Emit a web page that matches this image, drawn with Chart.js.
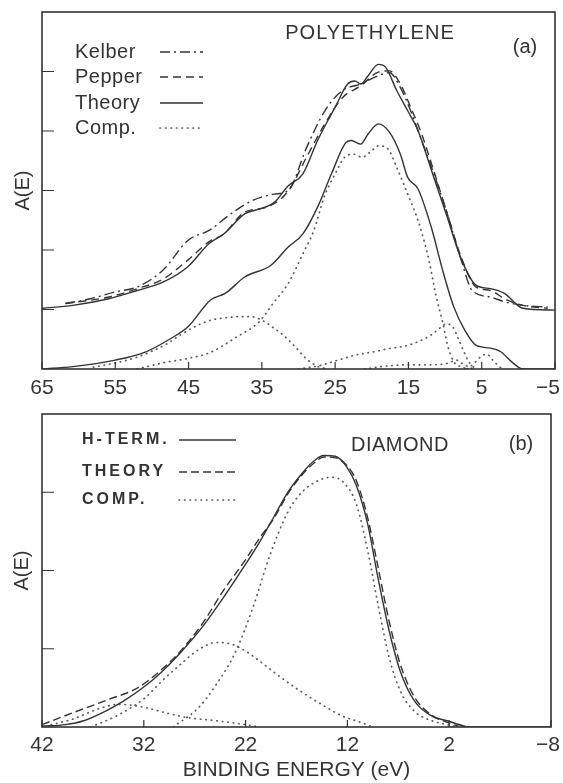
<!DOCTYPE html>
<html>
<head>
<meta charset="utf-8">
<script src="https://cdn.jsdelivr.net/npm/chart.js@4.4.1/dist/chart.umd.min.js"></script>
<style>
  html, body { margin: 0; padding: 0; background: #fff; }
  .panel { position: absolute; left: 0; width: 563px; }
  #wrapA { top: 0; height: 400px; }
  #wrapB { top: 400px; height: 383px; }
</style>
</head>
<body>
<div id="wrapA" class="panel"><canvas id="chartA" width="563" height="400"></canvas></div>
<div id="wrapB" class="panel"><canvas id="chartB" width="563" height="383"></canvas></div>
<script>
// --- Panel (a): polyethylene ---
const aTickValues = [65, 55, 45, 35, 25, 15, 5, -5];
const aTickLabels = ['65', '55', '45', '35', '25', '15', '5', '−5'];
const aYTicks = [0, 1, 2, 3, 4, 5, 6];

const aKelberE = [61.8, 58.4, 54.9, 52.0, 48.5, 45.1, 42.2, 39.2, 36.3, 33.3, 31.4, 28.9, 26.4, 24.0, 21.5, 19.1, 17.6, 16.1, 14.7, 13.2, 11.7, 9.7, 7.8, 6.3, 3.8, 1.9, -0.6, -4.0];
const aKelberA = [1.10, 1.18, 1.30, 1.38, 1.66, 2.16, 2.33, 2.61, 2.83, 2.94, 3.00, 3.72, 4.34, 4.68, 4.79, 4.93, 4.98, 4.73, 4.34, 3.84, 3.34, 2.61, 1.83, 1.32, 1.21, 1.13, 1.07, 1.04];

const aPepperE = [61.8, 55.9, 52.0, 48.5, 45.1, 42.2, 40.2, 37.3, 34.3, 31.4, 28.9, 26.4, 24.0, 21.5, 19.1, 17.6, 16.1, 14.7, 13.2, 11.7, 9.7, 7.8, 5.8, 3.8, 1.9, -0.6, -4.0];
const aPepperA = [1.10, 1.21, 1.35, 1.51, 1.83, 2.14, 2.27, 2.64, 2.72, 2.99, 3.56, 4.12, 4.56, 4.76, 4.99, 5.01, 4.79, 4.40, 3.95, 3.39, 2.61, 1.88, 1.38, 1.32, 1.18, 1.07, 1.02];

const aTheoryUpE = [65, 60.8, 55.9, 52, 48.5, 45.1, 42.2, 40.2, 37.3, 35.3, 33.3, 31.4, 29.4, 27.4, 25, 23.3, 22.3, 21.5, 20.5, 19.1, 18.1, 16.6, 15.1, 13.7, 11.7, 9.7, 7.9, 5.8, 3.8, 1.9, -0.6, -5];
const aTheoryUpA = [1.02, 1.07, 1.18, 1.32, 1.46, 1.72, 2.11, 2.27, 2.61, 2.69, 2.80, 3.08, 3.28, 3.84, 4.40, 4.79, 4.84, 4.79, 4.93, 5.12, 5.07, 4.68, 4.34, 4.01, 3.28, 2.55, 1.88, 1.41, 1.35, 1.27, 1.02, 0.99];

const aTheoryLoE = [65, 60.8, 55, 51, 47.6, 45, 42, 40, 37.3, 33.8, 31.4, 29.4, 27.4, 25.5, 23.5, 22.8, 21.5, 20.5, 19.1, 17.6, 16.1, 15.1, 13.7, 11.9, 10.2, 8.8, 7.3, 5.8, 3.8, 2.4, 0.9, -0.6, -5];
const aTheoryLoA = [0, 0.04, 0.15, 0.28, 0.50, 0.72, 1.16, 1.27, 1.55, 1.74, 2.05, 2.27, 2.72, 3.28, 3.81, 3.84, 3.78, 3.95, 4.12, 3.98, 3.61, 3.22, 3.03, 2.39, 1.60, 1.04, 0.65, 0.40, 0.35, 0.29, 0.12, 0, 0];

const aComp1E = [58, 55, 52, 50, 48, 46, 44, 42, 40, 38, 36.5, 35, 33.5, 32, 30.5, 29, 27.5, 26];
const aComp1A = [0.03, 0.10, 0.20, 0.30, 0.42, 0.58, 0.72, 0.82, 0.86, 0.88, 0.88, 0.82, 0.70, 0.56, 0.38, 0.18, 0.05, 0];
const aComp2E = [52, 48.6, 45, 42.2, 38.4, 35.4, 33.3, 31.4, 29.4, 27.9, 26.5, 25, 23.7, 22.5, 21.3, 20, 19.1, 17.8, 16.6, 15.1, 13.7, 12.2, 11.3, 10.3, 9.6, 8.8, 7.9, 6.8];
const aComp2A = [0, 0.10, 0.18, 0.27, 0.54, 0.79, 1.13, 1.44, 1.94, 2.33, 2.89, 3.28, 3.56, 3.61, 3.56, 3.67, 3.75, 3.70, 3.39, 2.94, 2.50, 1.83, 1.27, 0.77, 0.37, 0.12, 0.04, 0];
const aComp3E = [30, 27, 24.6, 22, 19.7, 17.8, 15.3, 13.3, 11.8, 10.6, 9.8, 8.9, 8.1, 7.4, 6.9, 6.3, 5.5];
const aComp3A = [0, 0.06, 0.15, 0.24, 0.29, 0.34, 0.39, 0.48, 0.58, 0.70, 0.76, 0.70, 0.48, 0.28, 0.15, 0.05, 0];
const aComp4E = [7, 6, 5, 4.3, 3.5, 2.5, 2];
const aComp4A = [0, 0.10, 0.22, 0.25, 0.15, 0.03, 0];
const aComp5E = [21, 18, 15, 12, 9.5, 8.5, 7.5, 6.5, 6];
const aComp5A = [0, 0.05, 0.07, 0.07, 0.10, 0.15, 0.08, 0.02, 0];

const aLegendLabels = ['Kelber', 'Pepper', 'Theory', 'Comp.'];

// --- Panel (b): diamond ---
const bTickValues = [42, 32, 22, 12, 2, -8];
const bTickLabels = ['42', '32', '22', '12', '2', '−8'];
const bYTicks = [0, 1, 2, 3, 4];

const bHtermE = [42, 39.7, 37.9, 35.8, 34.0, 31.9, 30.2, 28.4, 26.3, 24.2, 22.0, 20.6, 19.2, 17.8, 16.4, 15.3, 14.3, 13.2, 12.1, 11.1, 10.0, 9.0, 7.9, 6.8, 5.4, 3.7, 2.2, 0.5, 0.1, -8];
const bHtermA = [0.01, 0.03, 0.08, 0.20, 0.33, 0.52, 0.71, 0.95, 1.27, 1.65, 2.08, 2.37, 2.69, 3.01, 3.25, 3.40, 3.47, 3.46, 3.33, 3.08, 2.59, 1.91, 1.23, 0.71, 0.33, 0.14, 0.08, 0.01, 0, 0];

const bTheoryE = [42, 39, 35.5, 32.6, 30.2, 28.4, 26.3, 24.2, 22.0, 20.6, 19.2, 17.8, 16.4, 15.3, 14.3, 13.2, 12.1, 11.1, 10.0, 9.0, 7.9, 6.8, 5.4, 3.7, 2.2, 1.1];
const bTheoryA = [0.03, 0.18, 0.35, 0.50, 0.74, 0.97, 1.31, 1.74, 2.14, 2.42, 2.67, 2.99, 3.23, 3.37, 3.45, 3.44, 3.35, 3.14, 2.67, 2.05, 1.35, 0.80, 0.38, 0.15, 0.06, 0.01];

const bComp1E = [29.1, 26.6, 24.9, 23.1, 21.3, 19.6, 17.8, 16.4, 15.0, 13.7, 12.5, 11.1, 10.0, 9.0, 7.9, 6.8, 5.4, 3.7, 2.2, 1.2];
const bComp1A = [0, 0.25, 0.54, 0.93, 1.52, 2.20, 2.76, 3.01, 3.14, 3.19, 3.14, 2.84, 2.25, 1.57, 0.89, 0.46, 0.20, 0.08, 0.03, 0];
const bComp2E = [37.2, 34.4, 31.9, 30.2, 28.4, 26.6, 24.9, 23.4, 22.0, 20.6, 18.5, 16.4, 14.3, 12.5, 10.7, 9.7];
const bComp2A = [0, 0.16, 0.37, 0.59, 0.80, 0.99, 1.08, 1.06, 0.97, 0.84, 0.63, 0.44, 0.27, 0.14, 0.06, 0.01];
const bComp3E = [41.1, 39.0, 36.5, 34.4, 31.9, 29.8, 27.7, 24.9, 22.0, 20.6];
const bComp3A = [0.03, 0.10, 0.23, 0.29, 0.25, 0.18, 0.12, 0.08, 0.03, 0];

const bLegendLabels = ['H-TERM.', 'THEORY', 'COMP.'];

// --- Shared helpers ---
const FONT = '"Liberation Sans", Arial, Helvetica, sans-serif';
const INK = '#333333';
Chart.defaults.font.family = FONT;
Chart.defaults.color = INK;

function pts(E, A) {
    return E.map((e, i) => ({ x: e, y: A[i] }));
}

function line(E, A, dash, extra) {
    return Object.assign({
        data: pts(E, A),
        borderColor: INK,
        borderWidth: 1.4,
        borderDash: dash,
        pointRadius: 0,
        cubicInterpolationMode: 'monotone',
        fill: false
    }, extra || {});
}

const DOT = { borderColor: '#5a5a5a', borderWidth: 1.7, borderCapStyle: 'round' };

// Frame, inward ticks and x tick labels
const frameTicks = {
    id: 'frameTicks',
    afterDraw(chart, args, opts) {
        const { ctx, chartArea: a, scales: { x, y } } = chart;
        ctx.save();
        ctx.strokeStyle = INK;
        ctx.lineWidth = 1.6;
        ctx.strokeRect(a.left, a.top, a.right - a.left, a.bottom - a.top);
        ctx.lineWidth = 1.2;
        ctx.beginPath();
        x.ticks.forEach(t => {
            const px = x.getPixelForValue(t.value);
            ctx.moveTo(px, a.bottom);
            ctx.lineTo(px, a.bottom - 7);
        });
        y.ticks.forEach(t => {
            const py = y.getPixelForValue(t.value);
            if (py <= a.top + 1 || py >= a.bottom - 1) return;
            ctx.moveTo(a.left, py);
            ctx.lineTo(a.left + 12, py);
        });
        ctx.stroke();

        ctx.fillStyle = INK;
        ctx.font = '21px ' + FONT;
        ctx.textAlign = 'center';
        ctx.textBaseline = 'middle';
        x.ticks.forEach(t => {
            const w = ctx.measureText(t.label).width;
            let px = x.getPixelForValue(t.value);
            px = Math.min(px, chart.width - w / 2 - 3);
            ctx.fillText(t.label, px, a.bottom + opts.labelGap);
        });
        ctx.restore();
    }
};

// Panel captions and the line-sample legend
const notes = {
    id: 'notes',
    afterDraw(chart, args, opts) {
        const { ctx } = chart;
        ctx.save();
        ctx.fillStyle = INK;
        ctx.textBaseline = 'middle';
        (opts.texts || []).forEach(t => {
            ctx.font = t.font;
            ctx.textAlign = 'center';
            ctx.letterSpacing = t.spacing || '0px';
            ctx.fillText(t.text, t.x, t.y);
        });
        const lg = opts.legend;
        lg.labels.forEach((label, i) => {
            const ds = chart.data.datasets[lg.datasets[i]];
            const yy = lg.rows[i];
            ctx.font = lg.font;
            ctx.letterSpacing = lg.spacing;
            ctx.textAlign = 'left';
            ctx.fillText(label, lg.textX, yy);
            ctx.letterSpacing = '0px';
            ctx.beginPath();
            ctx.strokeStyle = ds.borderColor;
            ctx.lineWidth = ds.borderWidth;
            ctx.lineCap = ds.borderCapStyle || 'butt';
            ctx.setLineDash(ds.borderDash || []);
            ctx.moveTo(lg.lineX[0], yy);
            ctx.lineTo(lg.lineX[1], yy);
            ctx.stroke();
        });
        ctx.restore();
    }
};

function makeOptions(cfg) {
    return {
        responsive: false,
        animation: false,
        layout: { padding: cfg.padding },
        plugins: {
            legend: { display: false },
            tooltip: { enabled: false },
            frameTicks: { labelGap: cfg.labelGap },
            notes: { texts: cfg.texts, legend: cfg.legend }
        },
        scales: {
            x: {
                type: 'linear',
                reverse: true,
                min: cfg.xMin,
                max: cfg.xMax,
                grid: { display: false },
                border: { display: false },
                ticks: {
                    display: false,
                    callback: v => cfg.tickLabels[cfg.tickValues.indexOf(v)]
                },
                afterBuildTicks: s => { s.ticks = cfg.tickValues.map(v => ({ value: v })); },
                title: cfg.xTitle || { display: false },
                afterFit: s => { s.height = cfg.xHeight; }
            },
            y: {
                min: 0,
                max: cfg.yMax,
                grid: { display: false },
                border: { display: false },
                ticks: { display: false },
                afterBuildTicks: s => { s.ticks = cfg.yTicks.map(v => ({ value: v })); },
                title: {
                    display: true,
                    text: 'A(E)',
                    font: { size: 20 },
                    color: INK,
                    padding: { top: cfg.yTitlePad, bottom: 0 }
                },
                afterFit: s => { s.width = 42; }
            }
        }
    };
}

// --- Chart (a) ---
new Chart(document.getElementById('chartA'), {
    type: 'line',
    data: {
        datasets: [
            line(aKelberE, aKelberA, [10, 4, 2, 4]),
            line(aPepperE, aPepperA, [8, 5]),
            line(aTheoryUpE, aTheoryUpA, []),
            line(aTheoryLoE, aTheoryLoA, []),
            line(aComp1E, aComp1A, [0.5, 5], DOT),
            line(aComp2E, aComp2A, [0.5, 5], DOT),
            line(aComp3E, aComp3A, [0.5, 5], DOT),
            line(aComp4E, aComp4A, [0.5, 5], DOT),
            line(aComp5E, aComp5A, [0.5, 5], DOT)
        ]
    },
    options: makeOptions({
        padding: { top: 12, right: 8, left: 0, bottom: 0 },
        xMin: -5, xMax: 65, yMax: 6,
        tickValues: aTickValues, tickLabels: aTickLabels, yTicks: aYTicks,
        xHeight: 31, labelGap: 19, yTitlePad: 11,
        texts: [
            { text: 'POLYETHYLENE', x: 370, y: 33, font: '20px ' + FONT, spacing: '1px' },
            { text: '(a)', x: 525, y: 47, font: '20px ' + FONT }
        ],
        legend: {
            labels: aLegendLabels, datasets: [0, 1, 2, 4],
            rows: [52, 77, 103, 128], textX: 75, lineX: [160, 203],
            font: '20px ' + FONT, spacing: '0.5px'
        }
    }),
    plugins: [frameTicks, notes]
});

// --- Chart (b) ---
new Chart(document.getElementById('chartB'), {
    type: 'line',
    data: {
        datasets: [
            line(bHtermE, bHtermA, []),
            line(bTheoryE, bTheoryA, [8, 4]),
            line(bComp1E, bComp1A, [0.5, 5], DOT),
            line(bComp2E, bComp2A, [0.5, 5], DOT),
            line(bComp3E, bComp3A, [0.5, 5], DOT)
        ]
    },
    options: makeOptions({
        padding: { top: 14, right: 12, left: 0, bottom: 0 },
        xMin: -8, xMax: 42, yMax: 4,
        tickValues: bTickValues, tickLabels: bTickLabels, yTicks: bYTicks,
        xHeight: 56, labelGap: 18, yTitlePad: 10,
        xTitle: {
            display: true,
            text: 'BINDING ENERGY (eV)',
            font: { size: 21 },
            color: INK,
            padding: { top: 0, bottom: 0 }
        },
        texts: [
            { text: 'DIAMOND', x: 400, y: 45, font: '20px ' + FONT, spacing: '0.5px' },
            { text: '(b)', x: 521, y: 44, font: '20px ' + FONT }
        ],
        legend: {
            labels: bLegendLabels, datasets: [0, 1, 2],
            rows: [40, 72, 100], textX: 82, lineX: [179, 236],
            font: 'bold 16px ' + FONT, spacing: '3px'
        }
    }),
    plugins: [frameTicks, notes]
});
</script>
</body>
</html>
